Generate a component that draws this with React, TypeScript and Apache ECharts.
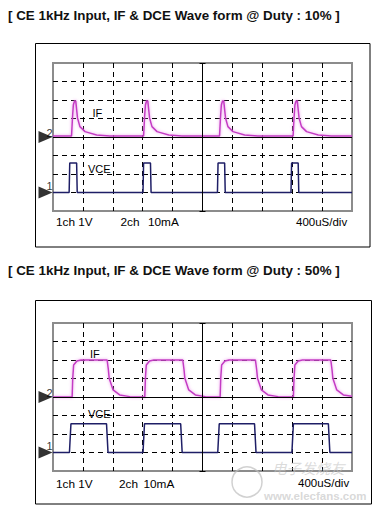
import React, { useEffect, useRef } from "react";
import * as echarts from "echarts";

// ---- data (all values in scope divisions: x 0..10, y 0..8) ----
const titleDuty10 = "[ CE 1kHz Input, IF & DCE Wave form @ Duty : 10% ]";
const titleDuty50 = "[ CE 1kHz Input, IF & DCE Wave form @ Duty : 50% ]";

const channelLabels = ["2", "1"];
const channelRefs = [
  [0, 4],
  [0, 1],
];

// IF trace, duty 10%
const if10 = [
  [0, 4.05],
  [0.62, 4.05], [0.65, 5.0], [0.68, 5.73], [0.72, 5.95], [0.76, 5.95], [0.82, 5.03], [0.9, 4.56], [1.07, 4.29], [1.46, 4.11], [1.9, 4.05],
  [3.03, 4.05], [3.06, 5.0], [3.09, 5.73], [3.13, 5.95], [3.17, 5.95], [3.23, 5.03], [3.31, 4.56], [3.48, 4.29], [3.87, 4.11], [4.31, 4.05],
  [5.57, 4.05], [5.6, 5.0], [5.63, 5.73], [5.67, 5.95], [5.71, 5.95], [5.77, 5.03], [5.85, 4.56], [6.02, 4.29], [6.41, 4.11], [6.85, 4.05],
  [8.03, 4.05], [8.06, 5.0], [8.09, 5.73], [8.13, 5.95], [8.17, 5.95], [8.23, 5.03], [8.31, 4.56], [8.48, 4.29], [8.87, 4.11], [9.31, 4.05],
  [10, 4.05],
];

// VCE trace, duty 10%
const vce10 = [
  [0, 1.0],
  [0.54, 1.0], [0.56, 2.6], [0.79, 2.6], [0.81, 1.0],
  [3.01, 1.0], [3.03, 2.6], [3.26, 2.6], [3.28, 1.0],
  [5.5, 1.0], [5.52, 2.6], [5.74, 2.6], [5.76, 1.0],
  [7.96, 1.0], [7.98, 2.6], [8.2, 2.6], [8.22, 1.0],
  [10, 1.0],
];

// IF trace, duty 50%
const if50 = [
  [0, 4.0],
  [0.64, 4.0], [0.66, 5.0], [0.69, 5.73], [0.8, 5.95], [0.94, 6.0], [1.81, 6.0], [1.85, 5.5], [1.88, 5.01], [2.01, 4.38], [2.23, 4.11], [2.57, 4.02],
  [3.07, 4.0], [3.09, 5.0], [3.12, 5.73], [3.23, 5.95], [3.37, 6.0], [4.34, 6.0], [4.38, 5.5], [4.41, 5.01], [4.54, 4.38], [4.76, 4.11], [5.1, 4.02],
  [5.59, 4.0], [5.61, 5.0], [5.64, 5.73], [5.75, 5.95], [5.89, 6.0], [6.77, 6.0], [6.81, 5.5], [6.84, 5.01], [6.97, 4.38], [7.19, 4.11], [7.53, 4.02],
  [8.04, 4.0], [8.06, 5.0], [8.09, 5.73], [8.2, 5.95], [8.34, 6.0], [9.29, 6.0], [9.33, 5.5], [9.36, 5.01], [9.49, 4.38], [9.71, 4.11],
  [10, 4.04],
];

// VCE trace, duty 50%
const vce50 = [
  [0, 1.0],
  [0.55, 1.0], [0.6, 2.55], [1.79, 2.55], [1.84, 1.0],
  [3.01, 1.0], [3.06, 2.55], [4.27, 2.55], [4.32, 1.0],
  [5.51, 1.0], [5.56, 2.55], [6.74, 2.55], [6.79, 1.0],
  [7.99, 1.0], [8.04, 2.55], [9.21, 2.55], [9.26, 1.0],
  [10, 1.0],
];

const scaleLabels = ["1ch 1V", "2ch", "10mA", "400uS/div"];

const IF_COLOR = "#c43ac4";
const VCE_COLOR = "#1e1e66";

export default function App() {
  const ref = useRef<HTMLDivElement>(null);

  useEffect(() => {
    if (!ref.current) return;
    const chart = echarts.init(ref.current, null, { renderer: "svg" });

    const gridTops = [63, 323];
    const grids = gridTops.map((top) => ({
      left: 53,
      top,
      width: 299,
      height: 148,
      show: true,
      borderColor: "#8c8c8c",
      borderWidth: 2,
      backgroundColor: "#fff",
    }));

    const dashed = { color: "#000", type: [5, 4], width: 1 };
    const xAxes = gridTops.map((_, i) => ({
      type: "value",
      gridIndex: i,
      min: 0,
      max: 10,
      interval: 1,
      axisLine: { show: false },
      axisTick: { show: false },
      axisLabel: { show: false },
      splitLine: { show: true, showMinLine: false, showMaxLine: false, lineStyle: dashed },
    }));
    const yAxes = gridTops.map((_, i) => ({
      type: "value",
      gridIndex: i,
      min: 0,
      max: 8,
      interval: 1,
      axisLine: { show: false },
      axisTick: { show: false },
      axisLabel: { show: false },
      splitLine: { show: true, showMinLine: false, showMaxLine: false, lineStyle: dashed },
    }));

    const traces = [
      [if10, vce10],
      [if50, vce50],
    ];
    const labelOffsets = [
      [4, -4.5],
      [4, -7],
    ];

    const series: any[] = [];
    traces.forEach(([ifd, vced], i) => {
      series.push({
        type: "line",
        xAxisIndex: i,
        yAxisIndex: i,
        data: vced,
        showSymbol: false,
        symbol: "none",
        z: 3,
        lineStyle: { color: VCE_COLOR, width: 1.5 },
        markLine: {
          silent: true,
          symbol: "none",
          label: { show: false },
          lineStyle: { color: "#000", type: "solid", width: 1 },
          data: [
            { xAxis: 5 },
            { yAxis: 4 },
            [{ coord: [4.9, 8] }, { coord: [5.1, 8] }],
            [{ coord: [4.9, 0] }, { coord: [5.1, 0] }],
          ],
        },
      });
      series.push({
        type: "line",
        xAxisIndex: i,
        yAxisIndex: i,
        data: ifd,
        showSymbol: false,
        symbol: "none",
        z: 4,
        lineStyle: {
          color: IF_COLOR,
          width: 1.5,
          shadowBlur: 3,
          shadowColor: "rgba(235,140,235,0.9)",
        },
      });
      series.push({
        type: "scatter",
        xAxisIndex: i,
        yAxisIndex: i,
        clip: false,
        z: 5,
        symbol: "path://M0,0L14,6L0,12Z",
        symbolSize: [14, 12],
        symbolOffset: [-7.5, 0],
        itemStyle: { color: "#000" },
        label: {
          show: true,
          position: "inside",
          color: "#000",
          fontSize: 11,
          fontFamily: "Liberation Sans",
        },
        data: channelRefs.map((v, k) => ({
          value: v,
          label: { formatter: channelLabels[k], offset: labelOffsets[k] },
        })),
      });
    });

    const txt = (text: string, x: number, y: number, size: number, extra: any = {}) => ({
      type: "text",
      x,
      y,
      silent: true,
      z: 10,
      style: {
        text,
        fill: "#000",
        fontSize: size,
        fontFamily: "Liberation Sans",
        verticalAlign: "middle",
        ...extra,
      },
    });

    const graphic: any[] = [
      {
        type: "rect",
        silent: true,
        shape: { x: 35.5, y: 43.5, width: 334.5, height: 203.5 },
        style: { fill: "none", stroke: "#000", lineWidth: 1 },
      },
      {
        type: "rect",
        silent: true,
        shape: { x: 35.5, y: 300.5, width: 336, height: 203.5 },
        style: { fill: "none", stroke: "#000", lineWidth: 1 },
      },
      txt(titleDuty10, 8, 15, 13.4, { fontWeight: "bold", fill: "#111" }),
      txt(titleDuty50, 8, 270, 13.4, { fontWeight: "bold", fill: "#111" }),
      // panel 1 labels
      txt("IF", 92.5, 113, 11),
      txt("VCE", 88, 169, 11),
      txt(scaleLabels[0], 56, 222, 11.8),
      txt(scaleLabels[1], 120.5, 222, 11.8),
      txt(scaleLabels[2], 148, 222, 11.8),
      txt(scaleLabels[3], 296, 222, 11.5),
      // panel 2 labels
      txt("IF", 90, 353.5, 11),
      txt("VCE", 88, 414, 11),
      txt(scaleLabels[0], 56, 483.5, 11.8),
      txt(scaleLabels[1], 119, 483.5, 11.8),
      txt(scaleLabels[2], 143.5, 483.5, 11.8),
      txt(scaleLabels[3], 298, 483, 11.5),
      // watermark
      {
        type: "circle",
        silent: true,
        z: 11,
        shape: { cx: 247, cy: 482, r: 15 },
        style: { fill: "none", stroke: "rgba(190,190,190,0.7)", lineWidth: 1.5 },
      },
      txt("电子发烧友", 272, 467, 14.5, {
        fontFamily: "Noto Sans CJK SC",
        fill: "rgba(195,195,195,0.6)",
        fontStyle: "italic",
      }),
      txt("www.elecfans.com", 264, 496, 11.5, {
        fill: "rgba(195,195,195,0.65)",
        fontWeight: "bold",
      }),
    ];

    chart.setOption({
      animation: false,
      backgroundColor: "#fff",
      grid: grids,
      xAxis: xAxes,
      yAxis: yAxes,
      series,
      graphic,
    });

    return () => chart.dispose();
  }, []);

  return (
    <div
      ref={ref}
      style={{ position: "absolute", left: 0, top: 0, width: 380, height: 509, background: "#fff" }}
    />
  );
}
